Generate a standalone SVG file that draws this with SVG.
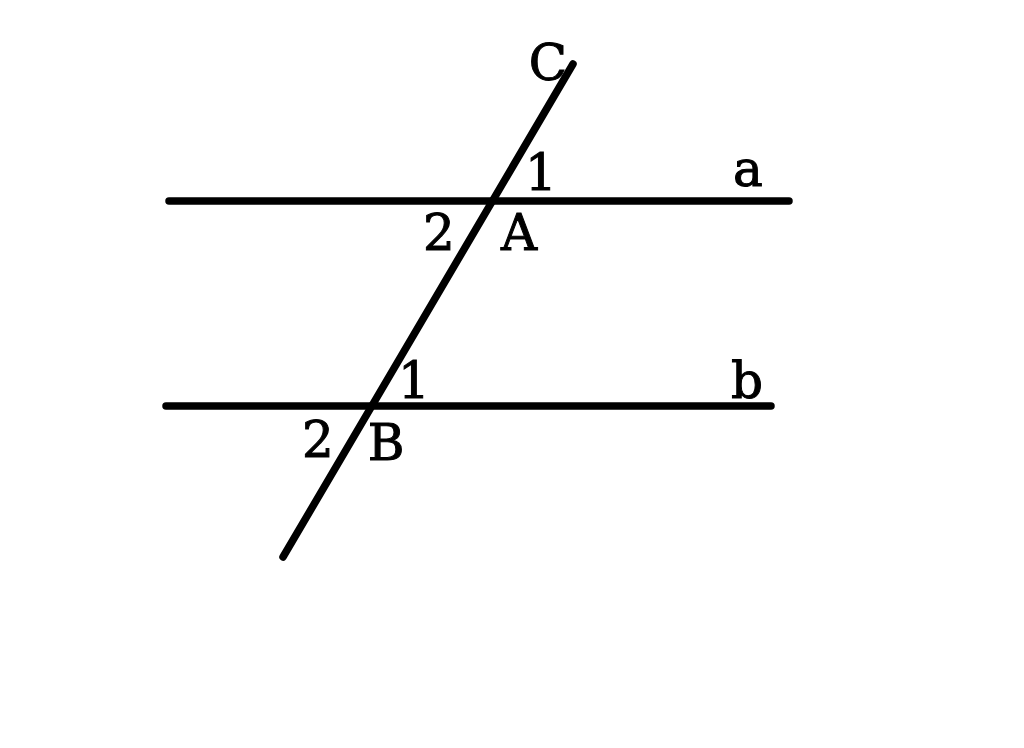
<svg xmlns="http://www.w3.org/2000/svg" width="1024" height="748" viewBox="0 0 1024 748">
<style>
.ln{stroke:#000;stroke-width:7.5;stroke-linecap:round;fill:none}
.t{font-family:"DejaVu Serif","Liberation Serif",serif;font-size:50px;fill:#000;stroke:#000;stroke-width:1;text-anchor:middle}
</style>
<rect width="1024" height="748" fill="#fff"/>
<g id="lines">
<line class="ln" x1="169" y1="201" x2="789" y2="201"/>
<line class="ln" x1="166" y1="406" x2="771" y2="406"/>
<line class="ln" x1="573" y1="64" x2="283" y2="557"/>
</g>
<g id="labels">
<text class="t" x="548" y="80">C</text>
<text class="t" x="541" y="190">1</text>
<text class="t" x="748" y="186">a</text>
<text class="t" x="439" y="250">2</text>
<text class="t" x="519" y="250">A</text>
<text class="t" x="414" y="398">1</text>
<text class="t" x="747" y="398">b</text>
<text class="t" x="318" y="457">2</text>
<text class="t" x="386" y="460">B</text>
</g>
</svg>
